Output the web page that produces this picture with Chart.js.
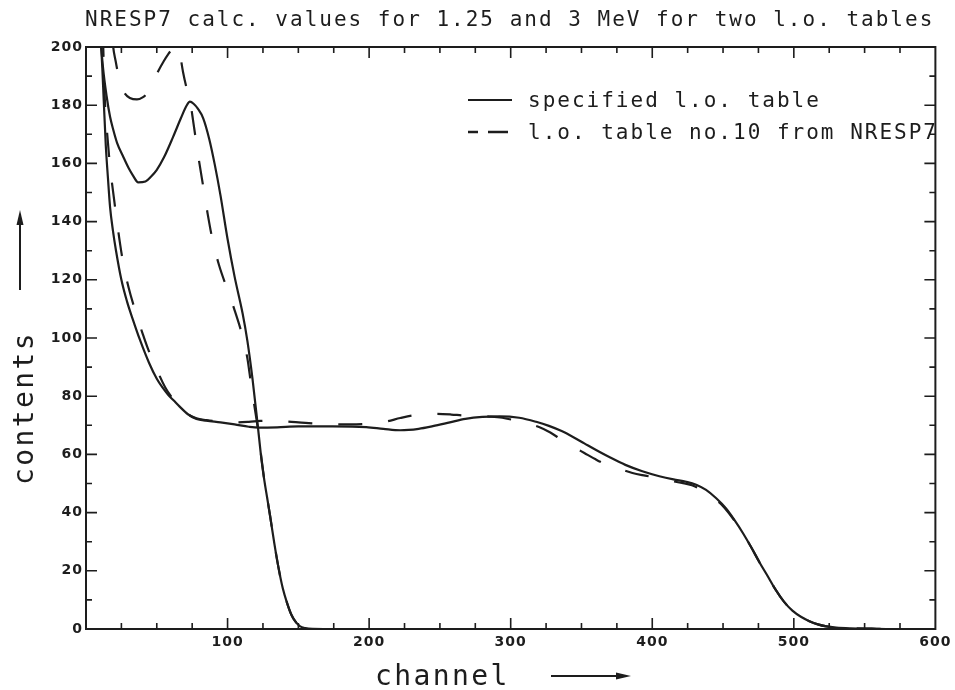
<!DOCTYPE html>
<html>
<head>
<meta charset="utf-8">
<script src="https://cdn.jsdelivr.net/npm/chart.js@4/dist/chart.umd.min.js"></script>
<style>
  body { margin: 0; background: #fff; }
  canvas { display: block; }
</style>
</head>
<body>
<canvas id="spectrum" width="955" height="690"></canvas>
<script>
// 1.25 MeV, specified light output table
const ch125Spec = [9, 10.5, 12, 14.6, 17, 19.3, 22, 26.3, 30, 33, 36.9, 42, 46, 49.9, 55, 61.6, 67, 71, 73.4, 76, 79, 82.8, 87, 91, 95, 100, 105, 110.6, 114, 117.6, 121.2, 124, 126, 128, 130, 133, 136, 139, 142, 145, 148, 151, 155, 160, 170];
const val125Spec = [215, 202, 193, 183, 176, 171.5, 167, 162.3, 158.5, 156, 153.5, 153.8, 155.5, 157.7, 162, 169.2, 175.5, 179.8, 181.2, 180.5, 178.8, 175.5, 168.5, 159.5, 149, 134, 121, 108.5, 99, 86, 70.5, 58, 51, 45, 39, 29.5, 21, 14, 9, 5, 2.5, 1, 0.3, 0.05, 0];

// 1.25 MeV, l.o. table no.10
const ch125Tab10 = [15, 17, 19, 21, 22.6, 25, 27.5, 31, 36, 40, 43, 47, 50.8, 55, 58, 61.4, 64, 66, 68.5, 71, 73.4, 76, 79, 83.5, 86, 89.4, 94, 100, 105, 110.6, 114, 116.5, 119, 121.2, 124, 126, 128, 130, 133, 136, 139, 142, 145, 148, 151, 155, 160, 170];
const val125Tab10 = [235, 216, 201, 195, 191, 186.5, 184, 182.5, 182, 182.7, 184, 187.5, 191.5, 195.2, 197.5, 199.5, 200.3, 198.5, 191.5, 186, 181.8, 173.5, 163.5, 150, 142.5, 133.7, 125, 116.5, 109.5, 100.5, 93, 84.5, 76.5, 69.5, 58.5, 51, 45, 39, 29.5, 21, 14, 9, 5, 2.5, 1, 0.3, 0.05, 0];

// 3 MeV, specified light output table
const ch3Spec = [9, 10.3, 11.5, 12.5, 14, 15.5, 17, 19, 21.2, 25, 29, 33, 38, 44.5, 50, 54, 58, 62, 66, 72, 78, 85, 95, 105, 115, 122, 135, 150, 174, 198, 210, 222, 235, 245, 257, 268, 280, 292, 306, 318, 327, 336, 344, 352, 360, 370, 381, 393, 405, 415, 424, 431, 438, 445, 452, 458, 464, 470, 476, 482, 487, 493, 499, 505, 511, 517, 523, 530, 540, 555, 570, 600];
const val3Spec = [218, 204, 193, 182, 166, 155, 145, 137, 130, 120, 112.5, 106.5, 99.5, 91.5, 86, 83, 80.5, 78.5, 76.5, 73.8, 72.2, 71.6, 71, 70.3, 69.5, 69.2, 69.3, 69.6, 69.6, 69.4, 68.8, 68.3, 68.8, 69.7, 71, 72.2, 72.9, 73.1, 72.6, 71.2, 69.8, 68, 66, 63.8, 61.6, 59, 56.4, 54.2, 52.5, 51.4, 50.6, 49.6, 47.8, 45, 41.5, 37.5, 33, 28, 22.7, 17.8, 13.6, 9.4, 6.3, 4.2, 2.7, 1.6, 0.9, 0.5, 0.25, 0.1, 0, 0];

// 3 MeV, l.o. table no.10
const ch3Tab10 = [10.5, 12, 13.3, 15, 17, 20, 22, 26, 30, 35.3, 40, 44, 48.2, 52, 56, 60, 66, 72, 78, 85, 95, 105, 115, 123, 132, 142, 155, 170, 185, 196, 205, 212, 222, 231, 240, 248, 258, 266, 276, 285, 294, 301, 310, 320, 328, 336, 344, 352, 360, 368, 377, 386, 395, 403, 412, 421, 428, 435, 442, 450, 458, 464, 470, 476, 482, 487, 493, 499, 505, 511, 517, 523, 530, 540, 555, 570, 600];
const val3Tab10 = [222, 203, 182, 170, 159, 147, 139.5, 126.5, 117.5, 108.6, 101.5, 96, 91.5, 87, 83, 80, 76.5, 73.8, 72.4, 71.8, 71.2, 71, 71.2, 71.5, 71.6, 71.3, 70.8, 70.4, 70.3, 70.4, 70.8, 71.3, 72.5, 73.4, 73.8, 73.9, 73.7, 73.4, 73.2, 73, 72.6, 71.9, 70.8, 69.4, 67.5, 65, 62.7, 60.5, 58.3, 56.4, 55, 53.6, 52.7, 52, 51, 50.2, 49.4, 47.8, 45.5, 42.2, 37.3, 33, 28, 22.7, 17.8, 13.6, 9.4, 6.3, 4.2, 2.7, 1.6, 0.9, 0.5, 0.25, 0.1, 0, 0];

const titleText = 'NRESP7 calc. values for 1.25 and 3 MeV for two l.o. tables';
const labelSpec = 'specified l.o. table';
const labelTab10 = 'l.o. table no.10 from NRESP7';

const ink = '#1d1d1d';
const mono = '"DejaVu Sans Mono", monospace';
const dash = [24, 26];

function points(xs, ys) {
  return xs.map((x, i) => ({ x: x, y: ys[i] }));
}

function series(label, xs, ys, dashed) {
  return {
    label: label,
    data: points(xs, ys),
    borderColor: ink,
    borderWidth: 2.2,
    borderDash: dashed ? dash : [],
    pointRadius: 0,
    fill: false,
    cubicInterpolationMode: 'monotone'
  };
}

function arrow(ctx, x1, y1, x2, y2) {
  const ang = Math.atan2(y2 - y1, x2 - x1);
  const len = 15, half = 3.5;
  ctx.beginPath();
  ctx.moveTo(x1, y1);
  ctx.lineTo(x2 - len * Math.cos(ang), y2 - len * Math.sin(ang));
  ctx.stroke();
  ctx.beginPath();
  ctx.moveTo(x2, y2);
  ctx.lineTo(x2 - len * Math.cos(ang) - half * Math.sin(ang), y2 - len * Math.sin(ang) + half * Math.cos(ang));
  ctx.lineTo(x2 - len * Math.cos(ang) + half * Math.sin(ang), y2 - len * Math.sin(ang) - half * Math.cos(ang));
  ctx.closePath();
  ctx.fill();
}

// frame, inward ticks on all four sides, title, legend and axis captions
const plotterDecor = {
  id: 'plotterDecor',
  beforeDraw(chart) {
    chart.ctx.letterSpacing = '1px';
  },
  afterDraw(chart) {
    const { ctx, chartArea: a, scales: { x, y } } = chart;
    ctx.save();
    ctx.strokeStyle = ink;
    ctx.fillStyle = ink;

    ctx.lineWidth = 2;
    ctx.strokeRect(a.left, a.top, a.right - a.left, a.bottom - a.top);

    ctx.lineWidth = 1.6;
    ctx.beginPath();
    for (let v = 25; v < 600; v += 25) {
      const px = x.getPixelForValue(v);
      const len = v % 100 === 0 ? 11 : 6;
      ctx.moveTo(px, a.bottom); ctx.lineTo(px, a.bottom - len);
      ctx.moveTo(px, a.top); ctx.lineTo(px, a.top + len);
    }
    for (let v = 10; v < 200; v += 10) {
      const py = y.getPixelForValue(v);
      const len = v % 20 === 0 ? 11 : 6;
      ctx.moveTo(a.left, py); ctx.lineTo(a.left + len, py);
      ctx.moveTo(a.right, py); ctx.lineTo(a.right - len, py);
    }
    ctx.stroke();

    // title
    ctx.letterSpacing = '2px';
    ctx.font = '21px ' + mono;
    ctx.textAlign = 'left';
    ctx.textBaseline = 'alphabetic';
    ctx.fillText(titleText, a.left - 1, 26);

    // legend
    const lx = a.left + 382, tx = a.left + 442;
    ctx.lineWidth = 2.2;
    ctx.beginPath();
    ctx.moveTo(lx, 100); ctx.lineTo(lx + 44, 100);
    ctx.stroke();
    ctx.setLineDash([10, 10, 20, 0]);
    ctx.lineWidth = 2.6;
    ctx.beginPath();
    ctx.moveTo(lx, 132); ctx.lineTo(lx + 40, 132);
    ctx.stroke();
    ctx.setLineDash([]);
    ctx.fillText(chart.data.datasets[0].label, tx, 107);
    ctx.fillText(chart.data.datasets[1].label, tx, 139);

    // axis captions with arrows
    ctx.font = '28px ' + mono;
    ctx.letterSpacing = '2.4px';
    ctx.fillText('channel', 375, 685);
    ctx.lineWidth = 2;
    arrow(ctx, 551, 676, 631, 676);

    ctx.save();
    ctx.translate(33, 408);
    ctx.rotate(-Math.PI / 2);
    ctx.textAlign = 'center';
    ctx.fillText('contents', 0, 0);
    ctx.restore();
    arrow(ctx, 20, 290, 20, 210);

    ctx.restore();
  }
};

const tickFont = { family: '"DejaVu Sans", sans-serif', size: 14, weight: 'bold' };

new Chart(document.getElementById('spectrum'), {
  type: 'line',
  data: {
    datasets: [
      series(labelSpec, ch125Spec, val125Spec, false),
      series(labelTab10, ch125Tab10, val125Tab10, true),
      series(labelSpec, ch3Spec, val3Spec, false),
      series(labelTab10, ch3Tab10, val3Tab10, true)
    ]
  },
  options: {
    responsive: false,
    animation: false,
    layout: { padding: { top: 47, right: 19, left: 0, bottom: 0 } },
    plugins: {
      legend: { display: false },
      title: { display: false },
      tooltip: { enabled: false }
    },
    scales: {
      x: {
        type: 'linear',
        min: 0,
        max: 600,
        grid: { display: false, drawTicks: false },
        border: { display: false },
        ticks: {
          stepSize: 100,
          maxRotation: 0,
          padding: 5,
          color: ink,
          font: tickFont,
          callback: v => (v === 0 ? '' : v)
        },
        afterFit(scale) { scale.height = 61; }
      },
      y: {
        min: 0,
        max: 200,
        grid: { display: false, drawTicks: false },
        border: { display: false },
        ticks: { stepSize: 20, padding: 3, color: ink, font: tickFont },
        afterFit(scale) { scale.width = 86; }
      }
    }
  },
  plugins: [plotterDecor]
});
</script>
</body>
</html>
